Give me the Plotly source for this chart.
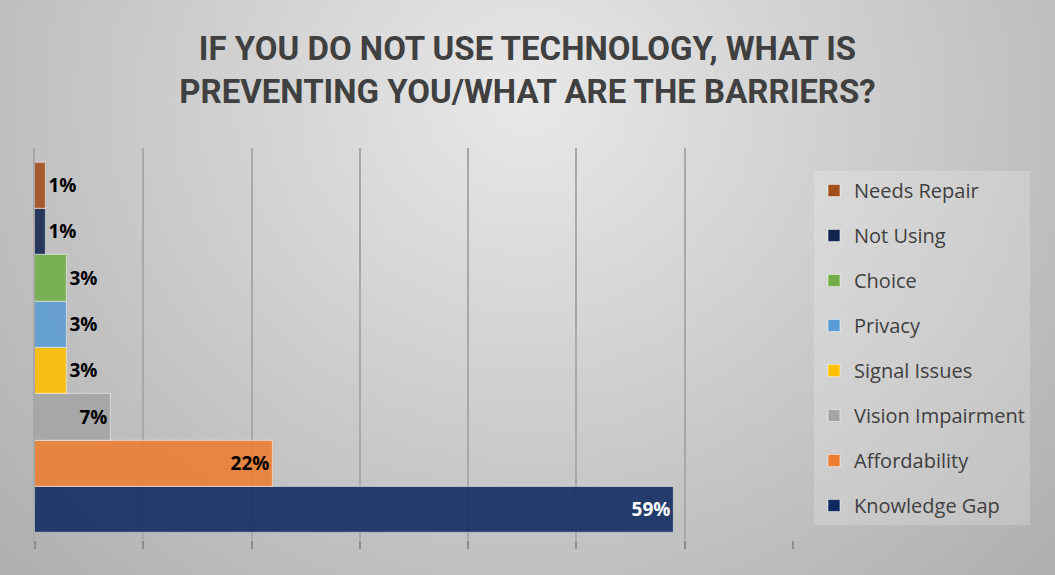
import base64
import struct
import zlib

import numpy as np
import plotly.graph_objects as go

# data, bottom bar first
categories = ["Knowledge Gap", "Affordability", "Vision Impairment", "Signal Issues",
              "Privacy", "Choice", "Not Using", "Needs Repair"]
values = [0.59, 0.22, 0.07, 0.03, 0.03, 0.03, 0.01, 0.01]
labels = ["59%", "22%", "7%", "3%", "3%", "3%", "1%", "1%"]

colors = ["#0e2a60", "#ed7d31", "#a5a5a5", "#ffc000",
          "#5b9bd5", "#70ad47", "#13244d", "#a24e1a"]
text_pos = ["inside", "inside", "inside", "outside", "outside", "outside", "outside", "outside"]
text_col = ["white", "black", "black", "black", "black", "black", "black", "black"]

W, H = 1055, 575
L, R, T, B = 35, 262, 148, 35
pw, ph = W - L - R, H - T - B


def gradient_png(w, h):
    # soft radial grey background, light near the title
    yy, xx = np.mgrid[0:h, 0:w]
    dx = (xx / (w - 1) * W - 527) / 560
    dy = (yy / (h - 1) * H - 100) / 520
    r = np.sqrt(dx ** 2 + dy ** 2)
    img = np.clip(233 - 44 * r, 0, 255).astype(np.uint8)
    raw = b"".join(b"\x00" + row.tobytes() for row in img)

    def chunk(tag, data):
        c = tag + data
        return struct.pack(">I", len(data)) + c + struct.pack(">I", zlib.crc32(c) & 0xffffffff)

    png = b"\x89PNG\r\n\x1a\n"
    png += chunk(b"IHDR", struct.pack(">IIBBBBB", w, h, 8, 0, 0, 0, 0))
    png += chunk(b"IDAT", zlib.compress(raw, 9))
    png += chunk(b"IEND", b"")
    return "data:image/png;base64," + base64.b64encode(png).decode()


fig = go.Figure()
for i, cat in enumerate(categories):
    fig.add_trace(go.Bar(
        x=[values[i]], y=[cat], orientation="h", name=cat,
        text=[labels[i]], textposition=text_pos[i], insidetextanchor="end",
        textfont=dict(family="Open Sans", size=19, color=text_col[i], weight="bold"),
        marker=dict(color=colors[i], opacity=0.88,
                    line=dict(color="rgba(255,255,255,0.45)", width=1.2)),
        legendgroup=cat, legendrank=len(categories) - i,
        cliponaxis=False, hoverinfo="skip",
    ))

fig.update_layout(
    width=W, height=H,
    margin=dict(l=L, r=R, t=T, b=B),
    paper_bgcolor="rgba(0,0,0,0)", plot_bgcolor="rgba(0,0,0,0)",
    barmode="overlay", bargap=0,
    title=dict(
        text="IF YOU DO NOT USE TECHNOLOGY, WHAT IS<br>PREVENTING YOU/WHAT ARE THE BARRIERS?",
        x=0.5, xanchor="center", y=1 - 60 / H, yanchor="middle",
        font=dict(family="Roboto", size=33, color="#404040", weight="bold"),
    ),
    legend=dict(
        x=(814 - L) / pw, xanchor="left", y=1 - (171 - T) / ph, yanchor="top",
        traceorder="grouped", tracegroupgap=16,
        bgcolor="rgba(255,255,255,0.2)",
        font=dict(family="Open Sans", size=20, color="#404040"),
    ),
    xaxis=dict(range=[0, 0.7], dtick=0.1, showticklabels=False,
               showgrid=True, gridcolor="#a8a8a8", gridwidth=1.5, zeroline=False,
               ticks="outside", ticklen=8, tickcolor="#8c8c8c", tickwidth=1.5),
    yaxis=dict(categoryorder="array", categoryarray=categories,
               range=[-0.5 - 0.151, 7.5 + 0.324], showticklabels=False,
               showgrid=False, zeroline=False,
               showline=True, linecolor="#a8a8a8", linewidth=1.5),
    images=[dict(source=gradient_png(211, 115), xref="paper", yref="paper",
                 x=-L / pw, y=1 + T / ph, sizex=W / pw, sizey=H / ph,
                 sizing="stretch", layer="below", xanchor="left", yanchor="top")],
    showlegend=True,
)

fig.write_html("out.html", config={"displayModeBar": False},
               post_script="document.body.style.margin='0';")
